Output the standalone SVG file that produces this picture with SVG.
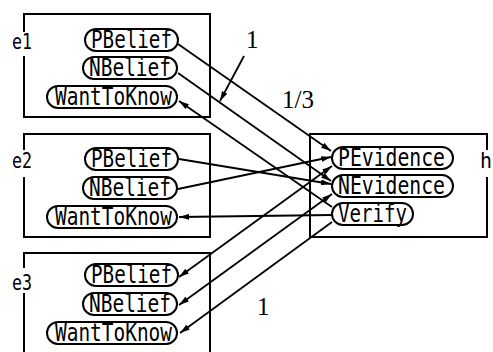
<svg xmlns="http://www.w3.org/2000/svg" width="493" height="352" viewBox="0 0 493 352">
<defs>
<style>
.box{fill:none;stroke:#000;stroke-width:2}
.pill{fill:#fff;stroke:#000;stroke-width:2}
.t{font-family:"DejaVu Sans Mono","Liberation Mono",monospace;font-size:24px;fill:#000}
.lbl{font-family:"DejaVu Sans Mono","Liberation Mono",monospace;font-size:22px;fill:#000}
.num{font-family:"Liberation Serif","Times New Roman",serif;font-size:25px;fill:#000}
.c{fill:none;stroke:#000;stroke-width:1.8}
</style>
<marker id="ah" viewBox="0 0 10 6" refX="10" refY="3" markerWidth="10" markerHeight="6" markerUnits="userSpaceOnUse" orient="auto-start-reverse">
<path d="M0,0 L10,3 L0,6 z" fill="#000"/>
</marker>
</defs>
<rect width="493" height="352" fill="#fff"/>

<g id="e1">
<path class="box" d="M24,32 V14 H210 V117 H24 V56"/>
<text class="lbl" x="12" y="49" textLength="20" lengthAdjust="spacingAndGlyphs">e1</text>
<rect class="pill" x="85" y="29" width="93" height="22" rx="11"/>
<text class="t" x="91" y="48" textLength="81" lengthAdjust="spacingAndGlyphs">PBelief</text>
<rect class="pill" x="83" y="57" width="94" height="22" rx="11"/>
<text class="t" x="89" y="76" textLength="82" lengthAdjust="spacingAndGlyphs">NBelief</text>
<rect class="pill" x="47" y="86" width="130" height="22" rx="11"/>
<text class="t" x="55" y="105" textLength="117" lengthAdjust="spacingAndGlyphs">WantToKnow</text>
</g>

<g id="e2">
<path class="box" d="M24,150 V134 H210 V237 H24 V177"/>
<text class="lbl" x="12" y="168" textLength="20" lengthAdjust="spacingAndGlyphs">e2</text>
<rect class="pill" x="85" y="148" width="93" height="22" rx="11"/>
<text class="t" x="91" y="167" textLength="81" lengthAdjust="spacingAndGlyphs">PBelief</text>
<rect class="pill" x="83" y="177" width="94" height="22" rx="11"/>
<text class="t" x="89" y="196" textLength="82" lengthAdjust="spacingAndGlyphs">NBelief</text>
<rect class="pill" x="47" y="206" width="130" height="22" rx="11"/>
<text class="t" x="55" y="225" textLength="117" lengthAdjust="spacingAndGlyphs">WantToKnow</text>
</g>

<g id="e3">
<path class="box" d="M24,268 V253 H210 V356 M24,293 V356"/>
<text class="lbl" x="12" y="290" textLength="20" lengthAdjust="spacingAndGlyphs">e3</text>
<rect class="pill" x="85" y="264" width="93" height="22" rx="11"/>
<text class="t" x="91" y="283" textLength="81" lengthAdjust="spacingAndGlyphs">PBelief</text>
<rect class="pill" x="83" y="293" width="94" height="22" rx="11"/>
<text class="t" x="89" y="312" textLength="82" lengthAdjust="spacingAndGlyphs">NBelief</text>
<rect class="pill" x="47" y="322" width="130" height="22" rx="11"/>
<text class="t" x="55" y="341" textLength="117" lengthAdjust="spacingAndGlyphs">WantToKnow</text>
</g>

<g id="h">
<path class="box" d="M487,150 V134 H310 V237 H487 V177"/>
<text class="lbl" x="480" y="168" textLength="12" lengthAdjust="spacingAndGlyphs">h</text>
<rect class="pill" x="332" y="147" width="121" height="22" rx="11"/>
<text class="t" x="338" y="166" textLength="107" lengthAdjust="spacingAndGlyphs">PEvidence</text>
<rect class="pill" x="332" y="175" width="121" height="22" rx="11"/>
<text class="t" x="338" y="194" textLength="107" lengthAdjust="spacingAndGlyphs">NEvidence</text>
<rect class="pill" x="332" y="203" width="81" height="22" rx="11"/>
<text class="t" x="338" y="222" textLength="69" lengthAdjust="spacingAndGlyphs">Verify</text>
</g>

<g id="connectors">
<line class="c" x1="178" y1="44" x2="331" y2="151" marker-end="url(#ah)"/>
<line class="c" x1="178" y1="73" x2="331" y2="181" marker-end="url(#ah)"/>
<line class="c" x1="332" y1="207" x2="179" y2="101" marker-end="url(#ah)"/>
<line class="c" x1="179" y1="159" x2="331" y2="184" marker-end="url(#ah)"/>
<line class="c" x1="178" y1="189" x2="331" y2="157" marker-end="url(#ah)"/>
<line class="c" x1="332" y1="215" x2="179" y2="217" marker-end="url(#ah)"/>
<line class="c" x1="179" y1="277" x2="332" y2="166" marker-start="url(#ah)" marker-end="url(#ah)"/>
<line class="c" x1="179" y1="305" x2="332" y2="194" marker-start="url(#ah)" marker-end="url(#ah)"/>
<line class="c" x1="332" y1="222" x2="180" y2="333" marker-end="url(#ah)"/>
<line class="c" x1="244" y1="56" x2="220" y2="101" marker-end="url(#ah)"/>
</g>

<g id="labels">
<text class="num" x="246" y="48">1</text>
<text class="num" x="282" y="108">1/3</text>
<text class="num" x="257" y="315">1</text>
</g>
</svg>
